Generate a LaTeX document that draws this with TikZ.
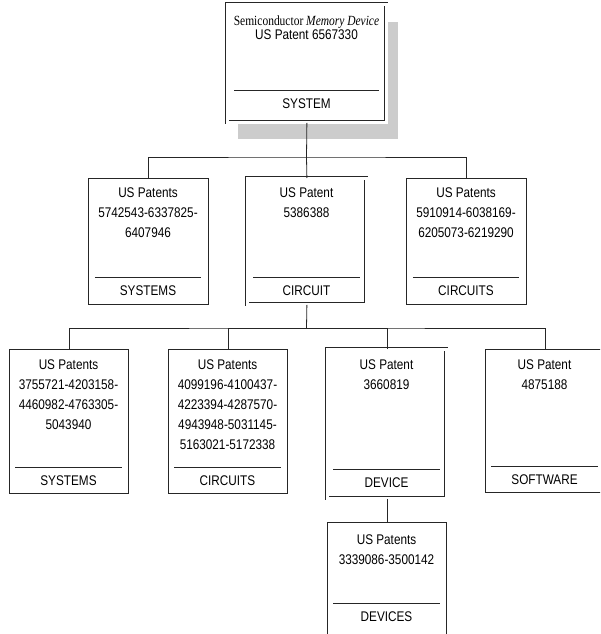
\documentclass[tikz,border=0pt]{standalone}
\usepackage{fontspec}
\setmainfont{Liberation Sans}[FakeStretch=0.84]
\newfontfamily\narrowserif{Liberation Serif}[FakeStretch=0.82]
\usepackage{tikz}
\tikzset{
  card/.style ={draw=black!85, line width=0.8pt, fill=white, anchor=north west,
                inner sep=0pt, minimum width=119pt},
  main/.style ={card, double, double distance=2.4pt},
  shade/.style={fill=black!20},
  info/.style ={anchor=north, align=center, inner sep=0pt,
                font=\fontsize{14}{20}\selectfont},
  lab/.style  ={anchor=north, inner sep=0pt, minimum width=106pt,
                minimum height=26pt, font=\fontsize{14}{16}\selectfont},
  wire/.style ={draw=black!85, line width=0.8pt},
}

\begin{document}
\begin{tikzpicture}[x=1pt, y=-1pt]
  \useasboundingbox (0,0) rectangle (600,634);
  \clip (0,0) rectangle (600,634);

  % top
  \fill[shade] (238,22) rectangle (398,139);
  \node[main, minimum width=159pt, minimum height=118pt] (sys) at (227,4) {};
  \node[info, font=\fontsize{14}{14}\selectfont] (sysT) at (306.5,16)
        {{\narrowserif Semiconductor \itshape Memory Device}\\US Patent 6567330};
  \node[lab, minimum width=144pt] (sysL) at (306.5,90) {SYSTEM};
  \draw[wire] (sysL.north west) -- (sysL.north east);

  % second row
  \node[card, minimum width=120pt, minimum height=126pt] (pA) at (88,178) {};
  \node[main, minimum height=126pt] (pB) at (247,178) {};
  \node[card, minimum width=120pt, minimum height=126pt] (pC) at (406,178) {};
  \node[info] (pAT) at (148,188) {US Patents\\5742543-6337825-\\6407946};
  \node[info] (pBT) at (306.5,188) {US Patent\\5386388};
  \node[info] (pCT) at (466,188) {US Patents\\5910914-6038169-\\6205073-6219290};
  \node[lab] (pAL) at (148,277) {SYSTEMS};
  \node[lab] (pBL) at (306.5,277) {CIRCUIT};
  \node[lab] (pCL) at (466,277) {CIRCUITS};
  \draw[wire] (pAL.north west) -- (pAL.north east);
  \draw[wire] (pBL.north west) -- (pBL.north east);
  \draw[wire] (pCL.north west) -- (pCL.north east);

  % third row
  \node[card, minimum height=144pt] (qA) at (9,349) {};
  \node[card, minimum height=144pt] (qB) at (168,349) {};
  \node[main, minimum height=149pt] (qC) at (327,349) {};
  \node[card, minimum height=143pt] (qD) at (485,349) {};
  \node[info] (qAT) at (68.5,360) {US Patents\\3755721-4203158-\\4460982-4763305-\\5043940};
  \node[info] (qBT) at (227.5,360) {US Patents\\4099196-4100437-\\4223394-4287570-\\4943948-5031145-\\5163021-5172338};
  \node[info] (qCT) at (386.5,360) {US Patent\\3660819};
  \node[info] (qDT) at (544.5,360) {US Patent\\4875188};
  \node[lab] (qAL) at (68.5,467) {SYSTEMS};
  \node[lab] (qBL) at (227.5,467) {CIRCUITS};
  \node[lab] (qCL) at (386.5,469) {DEVICE};
  \node[lab] (qDL) at (544.5,466) {SOFTWARE};
  \draw[wire] (qAL.north west) -- (qAL.north east);
  \draw[wire] (qBL.north west) -- (qBL.north east);
  \draw[wire] (qCL.north west) -- (qCL.north east);
  \draw[wire] (qDL.north west) -- (qDL.north east);

  % bottom
  \node[card, minimum height=130pt] (r) at (327,522) {};
  \node[info] (rT) at (386.5,535) {US Patents\\3339086-3500142};
  \node[lab] (rL) at (386.5,603) {DEVICES};
  \draw[wire] (rL.north west) -- (rL.north east);

  % connectors
  \coordinate (bus1) at (306.5,157);
  \coordinate (bus2) at (306.5,328);
  \draw[wire] (sys.south) -- (bus1);
  \draw[wire] (pA.north) |- (bus1) -| (pC.north);
  \draw[wire] (bus1) -- (pB.north);
  \draw[wire] (pB.south) -- (bus2);
  \draw[wire] (qA.north) |- (bus2) -| (qD.north);
  \draw[wire] (qB.north) |- (bus2);
  \draw[wire] (qC.north) |- (bus2);
  \draw[wire] (qC.south) -- (r.north);
\end{tikzpicture}
\end{document}
